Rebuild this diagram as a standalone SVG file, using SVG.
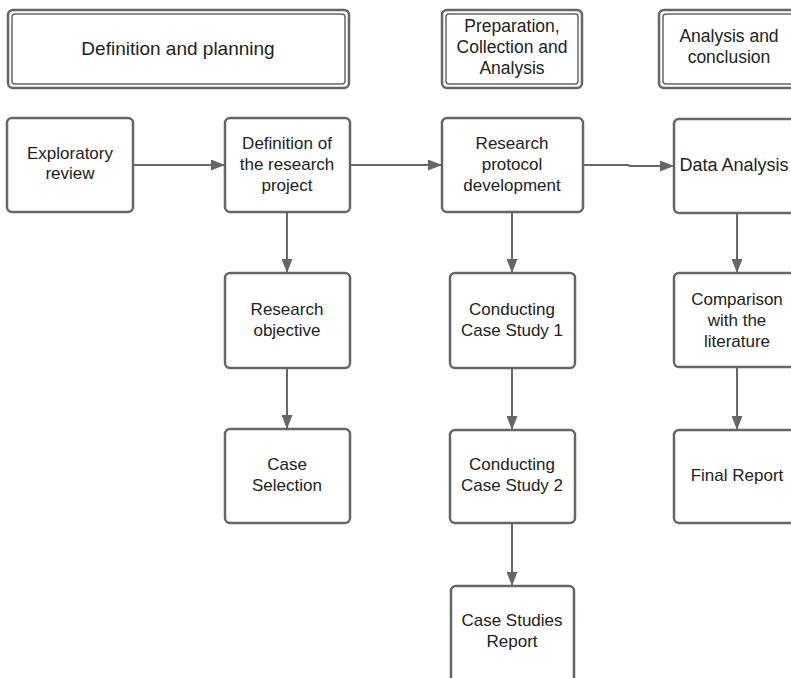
<svg xmlns="http://www.w3.org/2000/svg" width="791" height="678" viewBox="0 0 791 678">
<style>
.bg{fill:#fff}
.node rect{fill:#fff;stroke:#666;stroke-width:2.5}
.hdr .o{fill:#fff;stroke:#666;stroke-width:2.5}
.hdr .i{fill:none;stroke:#666;stroke-width:1.5}
text{font-family:"Liberation Sans",Arial,sans-serif;font-size:17px;fill:#222;text-anchor:middle}
.hdr text{font-size:17.5px}
#hdr1 text{font-size:19px}
#dataanalysis text{font-size:18px}
.conn path{fill:none;stroke:#666;stroke-width:2}
</style>
<defs>
<marker id="ah" markerWidth="14" markerHeight="11" refX="13" refY="5.5" orient="auto" markerUnits="userSpaceOnUse">
<path d="M0,0 L14,5.5 L0,11 Z" fill="#666"/>
</marker>
</defs>
<rect class="bg" x="0" y="0" width="791" height="678"/>

<g id="hdr1" class="hdr">
<rect class="o" x="8" y="10" width="341" height="78" rx="5"/>
<rect class="i" x="12" y="14" width="333" height="70" rx="3"/>
<text x="178" y="55">Definition and planning</text>
</g>
<g id="hdr2" class="hdr">
<rect class="o" x="442" y="10" width="140" height="78" rx="5"/>
<rect class="i" x="446" y="14" width="132" height="70" rx="3"/>
<text x="512" y="32">Preparation,</text>
<text x="512" y="53">Collection and</text>
<text x="512" y="74">Analysis</text>
</g>
<g id="hdr3" class="hdr">
<rect class="o" x="659" y="10" width="141" height="78" rx="5"/>
<rect class="i" x="663" y="14" width="133" height="70" rx="3"/>
<text x="729" y="42">Analysis and</text>
<text x="729" y="63">conclusion</text>
</g>

<g id="exploratory" class="node">
<rect x="7" y="118" width="126" height="94" rx="5"/>
<text x="70" y="159">Exploratory</text>
<text x="70" y="179">review</text>
</g>
<g id="definition" class="node">
<rect x="225" y="118" width="125" height="94" rx="5"/>
<text x="287" y="149">Definition of</text>
<text x="287" y="170">the research</text>
<text x="287" y="191">project</text>
</g>
<g id="protocol" class="node">
<rect x="442" y="118" width="141" height="94" rx="5"/>
<text x="512" y="149">Research</text>
<text x="512" y="170">protocol</text>
<text x="512" y="191">development</text>
</g>
<g id="dataanalysis" class="node">
<rect x="674" y="119" width="127" height="94" rx="5"/>
<text x="734" y="171">Data Analysis</text>
</g>

<g id="objective" class="node">
<rect x="225" y="273" width="125" height="95" rx="5"/>
<text x="287" y="315">Research</text>
<text x="287" y="336">objective</text>
</g>
<g id="cs1" class="node">
<rect x="450" y="273" width="125" height="95" rx="5"/>
<text x="512" y="315">Conducting</text>
<text x="512" y="336">Case Study 1</text>
</g>
<g id="comparison" class="node">
<rect x="674" y="273" width="127" height="94" rx="5"/>
<text x="737" y="305">Comparison</text>
<text x="737" y="326">with the</text>
<text x="737" y="347">literature</text>
</g>

<g id="caseselection" class="node">
<rect x="225" y="429" width="125" height="94" rx="5"/>
<text x="287" y="470">Case</text>
<text x="287" y="491">Selection</text>
</g>
<g id="cs2" class="node">
<rect x="450" y="430" width="125" height="93" rx="5"/>
<text x="512" y="470">Conducting</text>
<text x="512" y="491">Case Study 2</text>
</g>
<g id="finalreport" class="node">
<rect x="674" y="430" width="127" height="93" rx="5"/>
<text x="737" y="481">Final Report</text>
</g>

<g id="csreport" class="node">
<rect x="451" y="586" width="123" height="100" rx="5"/>
<text x="512" y="626">Case Studies</text>
<text x="512" y="647">Report</text>
</g>

<g id="connectors" class="conn">
<path d="M133,165 H224" marker-end="url(#ah)"/>
<path d="M350,165 H441" marker-end="url(#ah)"/>
<path d="M583,165 H628 L630,166 H673" marker-end="url(#ah)"/>
<path d="M287,212 V272" marker-end="url(#ah)"/>
<path d="M287,368 V428" marker-end="url(#ah)"/>
<path d="M512,212 V272" marker-end="url(#ah)"/>
<path d="M512,368 V429" marker-end="url(#ah)"/>
<path d="M512,523 V585" marker-end="url(#ah)"/>
<path d="M737,213 V272" marker-end="url(#ah)"/>
<path d="M737,367 V429" marker-end="url(#ah)"/>
</g>
</svg>
